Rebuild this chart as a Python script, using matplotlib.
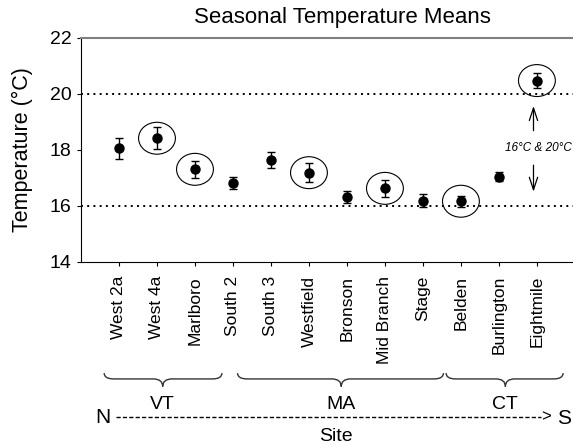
import numpy as np
import matplotlib
matplotlib.use("Agg")
from matplotlib import pyplot as plt
from matplotlib.patches import Ellipse, PathPatch
from matplotlib.path import Path
from matplotlib.lines import Line2D
import matplotlib.transforms as mtransforms

plt.rcParams['font.family'] = ['Liberation Sans', 'DejaVu Sans']

# data
sites = ['West 2a', 'West 4a', 'Marlboro', 'South 2', 'South 3', 'Westfield',
         'Bronson', 'Mid Branch', 'Stage', 'Belden', 'Burlington', 'Eightmile']
means = [18.06, 18.42, 17.31, 16.82, 17.64, 17.19, 16.33, 16.63, 16.19, 16.17, 17.04, 20.48]
errors = [0.37, 0.40, 0.30, 0.21, 0.28, 0.34, 0.21, 0.30, 0.23, 0.19, 0.16, 0.26]
circled = ['West 4a', 'Marlboro', 'Westfield', 'Mid Branch', 'Belden', 'Eightmile']
thresholds = [16, 20]

states = ['VT', 'MA', 'CT']
brace_left = [-0.39, 3.12, 8.61]
brace_right = [2.71, 8.54, 11.69]
brace_tip = [1.15, 5.85, 10.17]

fig = plt.figure(figsize=(5.73, 4.45), dpi=100)
ax = fig.add_axes([81 / 573, 1 - 262 / 445, 1 - 81 / 573, 224 / 445])

x = np.arange(len(sites))
ax.errorbar(x, means, yerr=errors, fmt='o', color='black', ms=6.5,
            capsize=3, elinewidth=1, capthick=1, zorder=3)

for xi, name in enumerate(sites):
    if name in circled:
        ax.add_patch(Ellipse((xi, means[xi]), 0.97, 1.14, fill=False,
                             edgecolor='black', lw=0.8, zorder=2))

for t in thresholds:
    ax.axhline(t, color='black', lw=1.4, linestyle=(0, (1, 2.2)), zorder=1)

ax.set_xlim(-1.0, 11.95)
ax.set_ylim(14, 22)
ax.set_yticks([14, 16, 18, 20, 22])
ax.set_xticks(x)
ax.set_xticklabels(sites, rotation=90, fontsize=12.5)
ax.tick_params(axis='y', labelsize=14, direction='out', length=3, pad=4)
ax.tick_params(axis='x', direction='out', length=3, pad=7)
ax.spines['right'].set_visible(False)
ax.spines['top'].set_color('#808080')
ax.spines['top'].set_linewidth(1.5)

ax.set_ylabel('Temperature (°C)', fontsize=15.5)
ax.yaxis.set_label_coords(-0.097, 0.5)
fig.text(342 / 573, 1 - 18 / 445, 'Seasonal Temperature Means', fontsize=16,
         ha='center', va='center')

# threshold annotation
arrow = dict(arrowstyle='->,head_length=0.9,head_width=0.3', color='black',
             lw=0.9, mutation_scale=10, shrinkA=0, shrinkB=0)
ax.annotate('', xy=(10.91, 19.57), xytext=(10.91, 18.69), arrowprops=arrow)
ax.annotate('', xy=(10.91, 16.51), xytext=(10.91, 17.46), arrowprops=arrow)
ax.text(11.05, 18.06, '16°C & 20°C', style='italic', fontsize=8.5,
        ha='center', va='center')

# braces and region labels below the axis
trans = mtransforms.blended_transform_factory(ax.transData, ax.transAxes)
y_top, y_line, y_tip = -0.496, -0.522, -0.556
d = 0.25
for lab, x0, x1, xt in zip(states, brace_left, brace_right, brace_tip):
    verts = [(x0, y_top), (x0, y_line), (x0 + d, y_line),
             (xt - d, y_line), (xt, y_line), (xt, y_tip),
             (xt, y_line), (xt + d, y_line),
             (x1 - d, y_line), (x1, y_line), (x1, y_top)]
    codes = [Path.MOVETO, Path.CURVE3, Path.CURVE3,
             Path.LINETO, Path.CURVE3, Path.CURVE3,
             Path.CURVE3, Path.CURVE3,
             Path.LINETO, Path.CURVE3, Path.CURVE3]
    ax.add_patch(PathPatch(Path(verts, codes), fill=False, edgecolor='#333333',
                           lw=1, transform=trans, clip_on=False))
    ax.text(xt, -0.634, lab, transform=trans, ha='center', va='center', fontsize=14)

ax.add_line(Line2D([-0.09, 11.12], [-0.692, -0.692], transform=trans, color='black',
                   lw=1, linestyle=(0, (3, 1.6)), clip_on=False))
ax.text(-0.43, -0.692, 'N', transform=trans, ha='center', va='center', fontsize=15)
ax.text(11.24, -0.692, '>', transform=trans, ha='center', va='center', fontsize=12)
ax.text(11.72, -0.70, 'S', transform=trans, ha='center', va='center', fontsize=15)
ax.text(5.72, -0.78, 'Site', transform=trans, ha='center', va='center', fontsize=14)

fig.savefig('out.png', dpi=100)
